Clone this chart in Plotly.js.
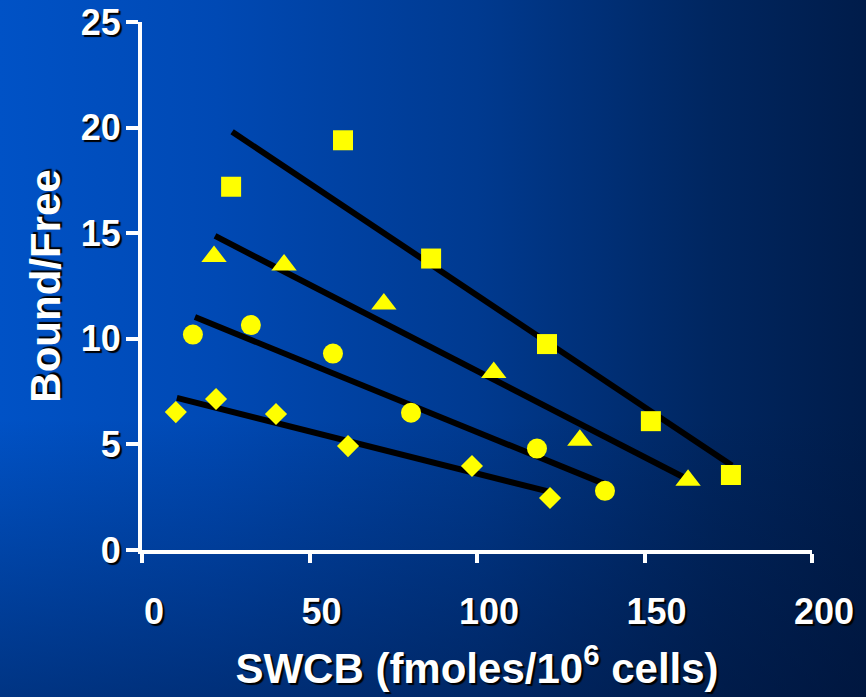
<!DOCTYPE html>
<html>
<head>
<meta charset="utf-8">
<script src="https://cdn.plot.ly/plotly-3.0.1.min.js"></script>
<style>
  html, body { margin: 0; padding: 0; }
  body {
    width: 866px; height: 697px; overflow: hidden;
    background:
      linear-gradient(to bottom, rgba(0,16,50,0) 0%, rgba(0,16,50,0) 60%, rgba(0,16,50,0.45) 100%),
      linear-gradient(to right, #0052c6 0%, #0049b4 25%, #003a90 55%, #002660 82%, #001c4a 100%);
  }
  #chart { width: 866px; height: 697px; }
</style>
</head>
<body>
<div id="chart"></div>
<script>
// Squares
const sqX = [26.6, 60.0, 86.3, 120.9, 151.9, 175.8];
const sqY = [17.2, 19.4, 13.8, 9.75, 6.1, 3.55];
// Triangles
const triX = [21.5, 42.4, 72.2, 105.0, 130.7, 163.0];
const triY = [13.9, 13.5, 11.65, 8.4, 5.2, 3.3];
// Circles
const cirX = [15.2, 32.5, 57.0, 80.3, 117.9, 138.2];
const cirY = [10.2, 10.65, 9.3, 6.5, 4.8, 2.8];
// Diamonds
const diaX = [10.1, 22.1, 40.0, 61.5, 98.5, 121.8];
const diaY = [6.53, 7.15, 6.44, 4.92, 3.98, 2.46];
// Fitted lines (endpoints)
const sqFitX = [26.9, 176.1];   const sqFitY = [19.8, 4.0];
const triFitX = [21.8, 162.7];  const triFitY = [14.87, 3.36];
const cirFitX = [15.8, 138.2];  const cirFitY = [11.03, 3.12];
const diaFitX = [10.4, 121.8];  const diaFitY = [7.2, 2.75];

const xTicks = [0, 50, 100, 150, 200];
const yTicks = [0, 5, 10, 15, 20, 25];

const yellow = '#ffff00';
const fitLine = (x, y) => ({x: x, y: y, type: 'scatter', mode: 'lines',
  line: {color: '#000000', width: 6}, hoverinfo: 'skip', showlegend: false});
const pts = (x, y, sym, size) => ({x: x, y: y, type: 'scatter', mode: 'markers',
  marker: {symbol: sym, size: size, color: yellow, line: {width: 0}}, showlegend: false});

const data = [
  fitLine(sqFitX, sqFitY), fitLine(triFitX, triFitY),
  fitLine(cirFitX, cirFitY), fitLine(diaFitX, diaFitY),
  pts(sqX, sqY, 'square', 20),
  pts(triX, triY, 'triangle-up', 22),
  pts(cirX, cirY, 'circle', 20),
  pts(diaX, diaY, 'diamond', 17)
];

const shadow = '2px 2px 1px #000000';
const tickFont = {family: 'Liberation Sans, Arial, sans-serif', size: 36, color: '#ffffff', weight: 700, shadow: shadow};
const titleFont = {family: 'Liberation Sans, Arial, sans-serif', size: 42, color: '#ffffff', weight: 700, shadow: shadow};

const layout = {
  width: 866, height: 697,
  paper_bgcolor: 'rgba(0,0,0,0)', plot_bgcolor: 'rgba(0,0,0,0)',
  margin: {l: 142, r: 54, t: 22, b: 147},
  xaxis: {
    range: [0, 200], tickvals: xTicks, ticktext: xTicks.map(String),
    showgrid: false, zeroline: false,
    showline: true, linecolor: '#ffffff', linewidth: 4,
    ticks: 'outside', ticklen: 9, tickwidth: 4, tickcolor: '#ffffff',
    tickfont: tickFont, ticklabelstandoff: 18, ticklabelshift: 12,
    title: {text: 'SWCB (fmoles/10<sup>6</sup> cells)', font: titleFont, standoff: 23},
    automargin: false
  },
  yaxis: {
    range: [0, 25], tickvals: yTicks, ticktext: yTicks.map(String),
    showgrid: false, zeroline: false,
    showline: true, linecolor: '#ffffff', linewidth: 4,
    ticks: 'outside', ticklen: 12, tickwidth: 4, tickcolor: '#ffffff',
    tickfont: tickFont, ticklabelstandoff: -2,
    title: {text: 'Bound/Free', font: titleFont, standoff: 8},
    automargin: false
  },
  showlegend: false
};

Plotly.newPlot('chart', data, layout, {displayModeBar: false, staticPlot: true});
</script>
</body>
</html>
